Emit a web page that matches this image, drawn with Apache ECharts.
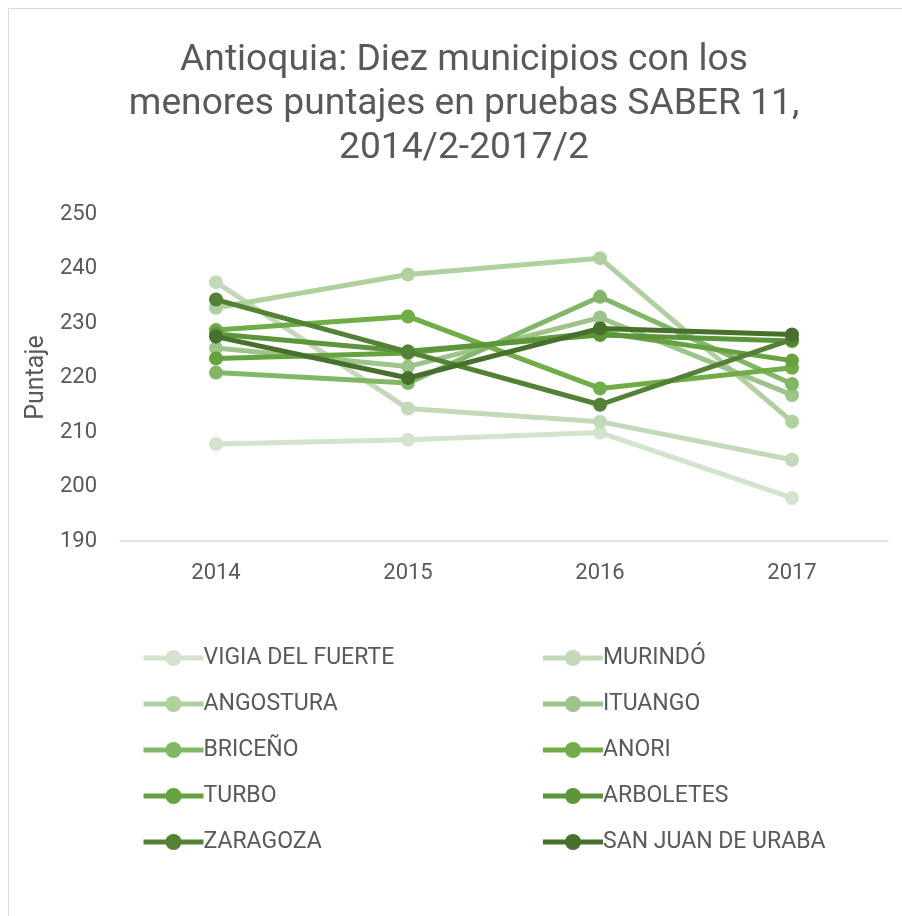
<!DOCTYPE html>
<html>
<head>
<meta charset="utf-8">
<script src="https://cdn.jsdelivr.net/npm/echarts@6/dist/echarts.min.js"></script>
<style>
html,body{margin:0;padding:0;background:#fff;}
#c{width:902px;height:916px;}
</style>
</head>
<body>
<div id="c"></div>
<script>
const categories = ['2014', '2015', '2016', '2017'];
const seriesNames = ['VIGIA DEL FUERTE', 'MURINDÓ', 'ANGOSTURA', 'ITUANGO', 'BRICEÑO', 'ANORI', 'TURBO', 'ARBOLETES', 'ZARAGOZA', 'SAN JUAN DE URABA'];
const vigiaDelFuerte = [207.8, 208.6, 209.9, 197.9];
const murindo = [237.5, 214.3, 211.9, 204.9];
const angostura = [232.8, 238.9, 241.9, 211.9];
const ituango = [225.4, 222.0, 231.0, 216.8];
const briceno = [220.9, 219.0, 234.8, 218.8];
const anori = [228.7, 231.2, 218.0, 221.8];
const turbo = [223.5, 224.5, 228.3, 223.1];
const arboletes = [228.0, 224.8, 227.8, 226.7];
const zaragoza = [234.3, 224.7, 215.0, 227.0];
const sanJuanDeUraba = [227.5, 219.9, 229.0, 227.9];
const yTicks = [190, 200, 210, 220, 230, 240, 250];

const values = [vigiaDelFuerte, murindo, angostura, ituango, briceno, anori, turbo, arboletes, zaragoza, sanJuanDeUraba];
const colors = ['#d3e3cc', '#c3d9b9', '#b1d0a0', '#9dc589', '#83b768', '#70ad47', '#66a23f', '#5d953a', '#548235', '#47702c'];

const chart = echarts.init(document.getElementById('c'));
const font = 'Roboto';
chart.setOption({
  animation: false,
  backgroundColor: '#fff',
  color: colors,
  title: {
    text: 'Antioquia: Diez municipios con los\nmenores puntajes en pruebas SABER 11,\n2014/2-2017/2',
    left: 459, top: 34, textAlign: 'center',
    textStyle: {fontFamily: font, fontSize: 37.2, fontWeight: 'normal', color: '#595959', lineHeight: 44}
  },
  graphic: [{
    type: 'rect', shape: {x: 8.5, y: 8.5, width: 900, height: 915},
    style: {fill: 'none', stroke: '#d9d9d9', lineWidth: 1}, silent: true
  }],
  grid: {left: 120, right: 14, top: 214, bottom: 375, containLabel: false},
  xAxis: {
    type: 'category', data: categories, boundaryGap: true,
    axisLine: {lineStyle: {color: '#d9d9d9', width: 1.5}},
    axisTick: {show: false},
    axisLabel: {fontFamily: font, fontSize: 22, color: '#595959', margin: 21}
  },
  yAxis: {
    type: 'value', min: yTicks[0], max: yTicks[yTicks.length - 1], interval: 10,
    name: 'Puntaje', nameLocation: 'middle', nameGap: 68, nameRotate: 90,
    nameTextStyle: {fontFamily: font, fontSize: 25, color: '#595959'},
    axisLine: {show: false}, axisTick: {show: false},
    splitLine: {show: false},
    axisLabel: {fontFamily: font, fontSize: 22, color: '#595959', margin: 23}
  },
  legend: {
    left: 136, top: 640, width: 840,
    itemWidth: 60, itemHeight: 20, itemGap: 20,
    data: seriesNames,
    lineStyle: {width: 5},
    textStyle: {fontFamily: font, fontSize: 23, color: '#595959', width: 317, lineHeight: 26, padding: [0, 0, 0, -5]}
  },
  series: seriesNames.map((n, i) => ({
    name: n, type: 'line', data: values[i],
    symbol: 'circle', symbolSize: 14,
    lineStyle: {width: 5, color: colors[i]},
    itemStyle: {color: colors[i]},
    z: 2 + i
  }))
});
</script>
</body>
</html>
